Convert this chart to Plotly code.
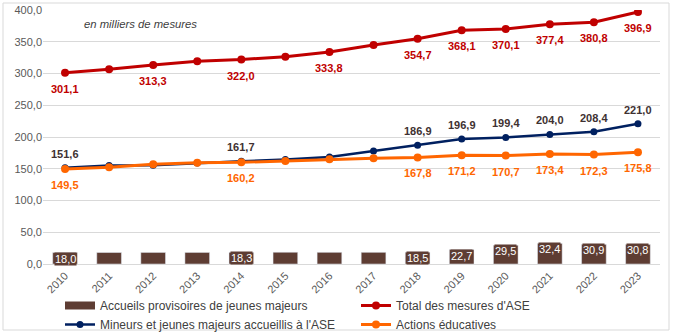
import plotly.graph_objects as go

years = [2010, 2011, 2012, 2013, 2014, 2015, 2016, 2017,
         2018, 2019, 2020, 2021, 2022, 2023]
accueils = [18.0, 18.1, 18.2, 18.2, 18.3, 18.5, 18.4, 18.4, 18.5, 22.7, 29.5, 32.4, 30.9, 30.8]
total = [301.1, 306.6, 313.3, 319.2, 322.0, 326.5, 333.8, 344.9, 354.7, 368.1, 370.1, 377.4, 380.8, 396.9]
mineurs = [151.6, 155.0, 155.5, 159.0, 161.7, 164.5, 168.5, 177.8, 186.9, 196.9, 199.4, 204.0, 208.4, 221.0]
actions = [149.5, 152.5, 157.0, 159.3, 160.2, 162.3, 164.8, 166.4, 167.8, 171.2, 170.7, 173.4, 172.3, 175.8]

# which years carry a visible data label
lab_accueils = [2010, 2014, 2018, 2019, 2020, 2021, 2022, 2023]
lab_total = [2010, 2012, 2014, 2016, 2018, 2019, 2020, 2021, 2022, 2023]
lab_mineurs = [2010, 2014, 2018, 2019, 2020, 2021, 2022, 2023]
lab_actions = [2010, 2014, 2018, 2019, 2020, 2021, 2022, 2023]

names = ["Accueils provisoires de jeunes majeurs", "Total des mesures d'ASE",
         "Mineurs et jeunes majeurs accueillis à l'ASE", "Actions éducatives"]

C_BAR = "#5E3D33"
C_RED = "#C00000"
C_BLUE = "#002060"
C_ORANGE = "#FF6600"
C_BLUELAB = "#403131"

FONT = "Liberation Sans, Arial, sans-serif"

def fmt(v):
    return f"{v:.1f}".replace(".", ",")

fig = go.Figure()
fig.add_trace(go.Bar(x=years, y=accueils, name=names[0], marker_color=C_BAR,
                     width=0.56, hoverinfo="skip", showlegend=False))
# legend-only entry so the bar series shows a wide rectangle swatch
fig.add_trace(go.Scatter(x=[None], y=[None], name=names[0], mode="lines",
                         line=dict(color=C_BAR, width=8)))
fig.add_trace(go.Scatter(x=years, y=total, name=names[1], mode="lines+markers",
                         line=dict(color=C_RED, width=3), marker=dict(size=8, color=C_RED)))
fig.add_trace(go.Scatter(x=years, y=mineurs, name=names[2], mode="lines+markers",
                         line=dict(color=C_BLUE, width=2.5), marker=dict(size=7, color=C_BLUE)))
fig.add_trace(go.Scatter(x=years, y=actions, name=names[3], mode="lines+markers",
                         line=dict(color=C_ORANGE, width=3), marker=dict(size=8, color=C_ORANGE)))

ann = []
def add_labels(vals, which, color, yshift):
    for y, v in zip(years, vals):
        if y in which:
            ann.append(dict(x=y, y=v, text=f"<b>{fmt(v)}</b>",
                            showarrow=False, yshift=yshift,
                            font=dict(family=FONT, size=11, color=color)))

add_labels(total, lab_total, C_RED, -16)
add_labels(mineurs, lab_mineurs, C_BLUELAB, 14)
add_labels(actions, lab_actions, C_ORANGE, -16)
for y, v in zip(years, accueils):
    if y in lab_accueils:
        ann.append(dict(x=y, y=v, text=fmt(v), showarrow=False, yanchor="top",
                        yshift=1, bgcolor=C_BAR, borderpad=0,
                        font=dict(family=FONT, size=11, color="white")))

ann.append(dict(xref="paper", yref="paper", x=0.063, y=0.945, xanchor="left",
                yanchor="middle",
                text="<i>en milliers de mesures</i>", showarrow=False,
                font=dict(family=FONT, size=11.3, color="#404040")))

fig.update_layout(
    width=673, height=335,
    margin=dict(l=43, r=13, t=10, b=71, autoexpand=False),
    paper_bgcolor="white", plot_bgcolor="white",
    separators=", ",
    font=dict(family=FONT, size=11, color="#595959"),
    showlegend=True,
    legend=dict(orientation="h", xref="container", yref="container",
                x=60 / 673, xanchor="left", y=(335 - 291) / 335, yanchor="top",
                entrywidth=251, entrywidthmode="pixels", tracegroupgap=0,
                font=dict(family=FONT, size=12, color="#404040"),
                bgcolor="rgba(0,0,0,0)"),
    annotations=ann,
    shapes=[dict(type="rect", xref="paper", yref="paper",
                 x0=(3 - 43) / 617, x1=(669 - 43) / 617,
                 y0=(264 - 330) / 254, y1=(264 - 3) / 254,
                 line=dict(color="#D9D9D9", width=1), fillcolor="rgba(0,0,0,0)",
                 layer="below")],
)
fig.update_xaxes(range=[years[0] - 0.5, years[-1] + 0.5], tickmode="array",
                 tickvals=years, ticktext=[str(y) for y in years],
                 tickangle=-45, showgrid=False, automargin=False,
                 showline=True, linecolor="#D9D9D9", linewidth=1, zeroline=False,
                 tickfont=dict(family=FONT, size=11, color="#595959"), ticks="")
fig.update_yaxes(range=[0, 400], dtick=50, tickformat=".1f", showgrid=True,
                 gridcolor="#D9D9D9", gridwidth=1, zeroline=False, showline=False,
                 automargin=False,
                 tickfont=dict(family=FONT, size=11, color="#595959"), ticks="")

fig.write_html("out.html")
